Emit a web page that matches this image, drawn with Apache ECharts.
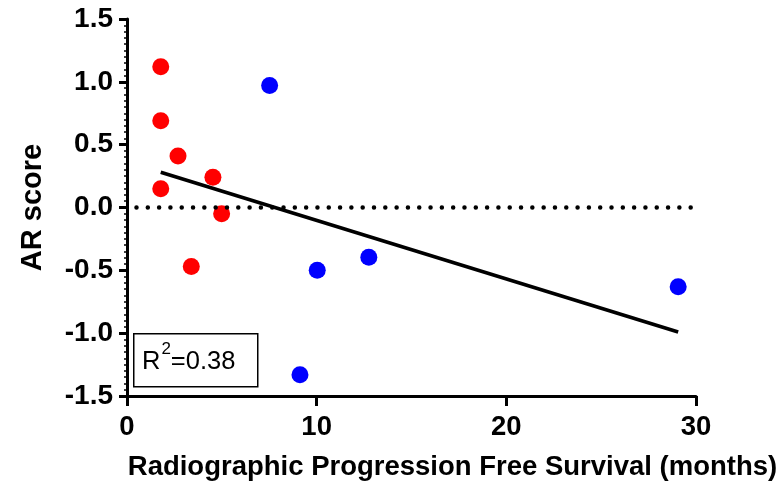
<!DOCTYPE html>
<html><head><meta charset="utf-8">
<script src="https://cdn.jsdelivr.net/npm/echarts@6/dist/echarts.min.js"></script>
<style>html,body{margin:0;padding:0;background:#fff}#c{width:782px;height:487px}</style>
</head><body><div id="c"></div>
<script>
const redX = [1.78, 1.78, 2.69, 4.53, 1.78, 4.99, 3.39];
const redY = [1.12, 0.69, 0.41, 0.24, 0.15, -0.05, -0.47];
const blueX = [7.52, 10.03, 12.75, 9.12, 29.06];
const blueY = [0.97, -0.50, -0.395, -1.33, -0.63];
const fitX = [1.78, 29.06];
const fitY = [0.28, -0.99];
const xTicks = [0, 10, 20, 30];
const yTicks = [-1.5, -1.0, -0.5, 0.0, 0.5, 1.0, 1.5];
const r2Label = '0.38';

const zip = (a, b) => a.map((v, i) => [v, b[i]]);
const font = '"Liberation Sans", Arial, sans-serif';
const chart = echarts.init(document.getElementById('c'));
chart.setOption({
  animation: false,
  grid: {left: 127, right: 86, top: 19, bottom: 91, outerBoundsMode: 'none', containLabel: false},
  xAxis: {
    type: 'value', min: xTicks[0], max: xTicks[xTicks.length-1], interval: 10,
    splitLine: {show: false},
    axisLine: {onZero: false, lineStyle: {color: '#000', width: 3}},
    axisTick: {length: 10, lineStyle: {color: '#000', width: 3}},
    axisLabel: {color: '#000', fontFamily: font, fontWeight: 'bold', fontSize: 27.5, margin: 17},
    name: 'Radiographic Progression Free Survival (months)',
    nameLocation: 'middle', nameGap: 57,
    nameTextStyle: {color: '#000', fontFamily: font, fontWeight: 'bold', fontSize: 27.5, padding: [0, 0, 0, 82]}
  },
  yAxis: {
    type: 'value', min: yTicks[0], max: yTicks[yTicks.length-1], interval: 0.5,
    splitLine: {show: false},
    axisLine: {onZero: false, lineStyle: {color: '#000', width: 3}},
    axisTick: {length: 8, lineStyle: {color: '#000', width: 3}},
    minorTick: {show: true, splitNumber: 10, length: 3, lineStyle: {color: '#000', width: 1.5}},
    axisLabel: {color: '#000', fontFamily: font, fontWeight: 'bold', fontSize: 28, margin: 14,
      formatter: v => v.toFixed(1)},
    name: 'AR score', nameLocation: 'middle', nameGap: 80,
    nameTextStyle: {color: '#000', fontFamily: font, fontWeight: 'bold', fontSize: 29}
  },
  series: [
    {type: 'scatter', data: zip(redX, redY), symbolSize: 17, itemStyle: {color: '#ff0000', opacity: 1},
     markLine: {silent: true, symbol: 'none', label: {show: false},
       lineStyle: {color: '#000', width: 4.5, type: [0.01, 11.3], cap: 'round'},
       data: [[{coord: [0.5, 0]}, {coord: [30, 0]}]]}},
    {type: 'scatter', data: zip(blueX, blueY), symbolSize: 17, itemStyle: {color: '#0000ff', opacity: 1}},
    {type: 'line', data: zip(fitX, fitY), symbol: 'none', lineStyle: {color: '#000', width: 3.6}, z: 1}
  ],
  graphic: [
    {type: 'rect', left: 133, top: 333, shape: {width: 124, height: 53},
     style: {fill: '#fff', stroke: '#000', lineWidth: 1.5}, z: 10},
    {type: 'text', left: 142, top: 341, z: 11,
     style: {text: '{a|R}{s|2}{a|=' + r2Label + '}', rich: {
       a: {fontFamily: font, fontSize: 25.5, fill: '#000', verticalAlign: 'bottom', lineHeight: 34},
       s: {fontFamily: font, fontSize: 17, fill: '#000', verticalAlign: 'top', lineHeight: 34, padding: [0,0,16,1]}
     }}}
  ]
});
</script></body></html>
